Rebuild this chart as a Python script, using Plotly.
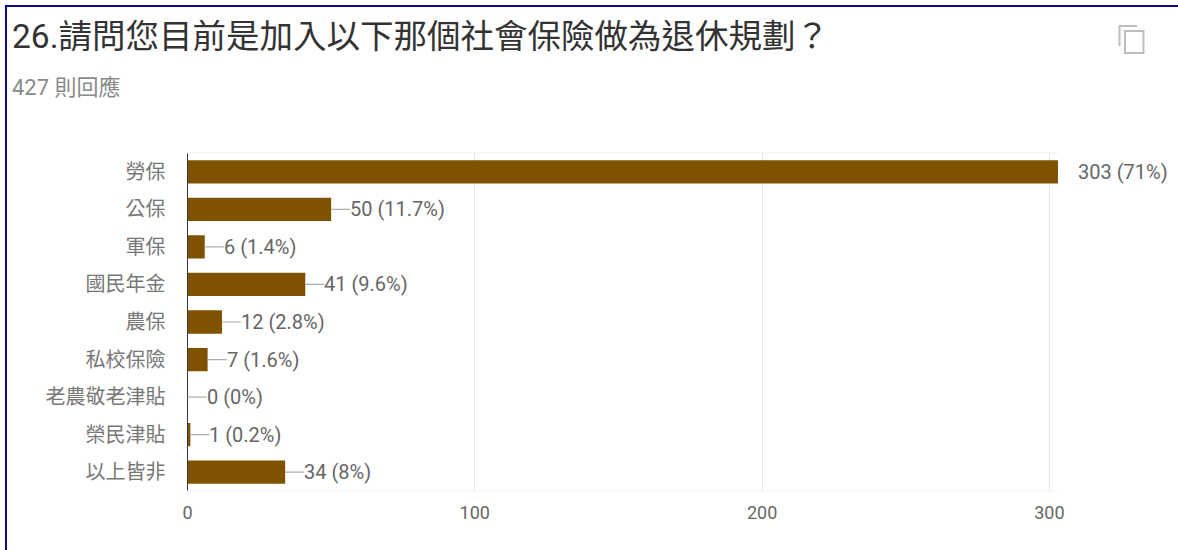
import plotly.graph_objects as go

categories = ["勞保", "公保", "軍保", "國民年金", "農保", "私校保險", "老農敬老津貼", "榮民津貼", "以上皆非"]
counts = [303, 50, 6, 41, 12, 7, 0, 1, 34]
percent_labels = ["71%", "11.7%", "1.4%", "9.6%", "2.8%", "1.6%", "0%", "0.2%", "8%"]
x_ticks = [0, 100, 200, 300]

W, H = 1178, 550
LATIN_CJK = "Roboto, 'Noto Sans CJK TC', sans-serif"
BAR = "#7f5200"
TEXT = "#666666"
FRAME = "#0a0a8c"
ICON = "#bdbdbd"


def px(x):
    return x / W


def py(y):
    return 1 - y / H


fig = go.Figure(go.Bar(
    x=counts, y=categories, orientation="h",
    marker=dict(color=BAR, line=dict(width=0)), width=0.62,
    hoverinfo="skip",
))

# Value labels: the largest bar has no leader line, the others do.
annotations = []
for cat, n, pct in zip(categories, counts, percent_labels):
    label = f"{n} ({pct})"
    big = n == max(counts)
    annotations.append(dict(
        x=n, y=cat, xref="x", yref="y", text=label, xanchor="left", yanchor="middle",
        showarrow=not big, ax=19 if not big else None, ay=0, axref="pixel", ayref="pixel",
        arrowhead=0, arrowwidth=1.2, arrowcolor="#adadad",
        xshift=20 if big else 0, borderpad=0, borderwidth=0,
        font=dict(family=LATIN_CJK, size=20, color=TEXT),
    ))

# Heading and response count
annotations.append(dict(
    x=px(10), y=py(37), xref="paper", yref="paper", xanchor="left", yanchor="middle",
    text="26.請問您目前是加入以下那個社會保險做為退休規劃？", showarrow=False,
    font=dict(family=LATIN_CJK, size=33.5, color="#333333"),
))
annotations.append(dict(
    x=px(10), y=py(87), xref="paper", yref="paper", xanchor="left", yanchor="middle",
    text="427 則回應", showarrow=False,
    font=dict(family=LATIN_CJK, size=22, color="#8a8a8a"),
))


def seg(x0, y0, x1, y1, color, width):
    return dict(type="line", xref="paper", yref="paper", x0=px(x0), y0=py(y0), x1=px(x1), y1=py(y1),
                line=dict(color=color, width=width), layer="above")


shapes = [
    # Frame along the top and left edges
    seg(5, 6, W, 6, FRAME, 2),
    seg(6, 6, 6, H, FRAME, 2),
    # Copy icon
    dict(type="rect", xref="paper", yref="paper", x0=px(1125), y0=py(31), x1=px(1143.5), y1=py(53),
         line=dict(color=ICON, width=2)),
    seg(1119.5, 26, 1119.5, 46, ICON, 2),
    seg(1119, 26, 1137, 26, ICON, 2),
    # Faint upper and lower plot boundaries
    seg(187, 153, 1058, 153, "#efefef", 1),
    seg(187, 491, 1058, 491, "#efefef", 1),
]

fig.update_layout(
    width=W, height=H, margin=dict(l=0, r=0, t=0, b=0, autoexpand=False),
    paper_bgcolor="white", plot_bgcolor="white", showlegend=False,
    annotations=annotations, shapes=shapes,
    font=dict(family=LATIN_CJK, color=TEXT),
    xaxis=dict(
        domain=[px(187.5), px(1058)], range=[0, 303], tickvals=x_ticks,
        showgrid=True, gridcolor="#e6e6e6", gridwidth=1, zeroline=False,
        showline=False, ticks="", ticklabelstandoff=9,
        tickfont=dict(family=LATIN_CJK, size=18, color=TEXT),
    ),
    yaxis=dict(
        domain=[py(491), py(153)], categoryorder="array", categoryarray=categories,
        autorange="reversed", showgrid=False, zeroline=False,
        showline=True, linecolor="#333344", linewidth=1.2, ticks="", ticklabelstandoff=17,
        tickfont=dict(family=LATIN_CJK, size=20, color="#777777"),
    ),
)

fig.write_html("out.html")
